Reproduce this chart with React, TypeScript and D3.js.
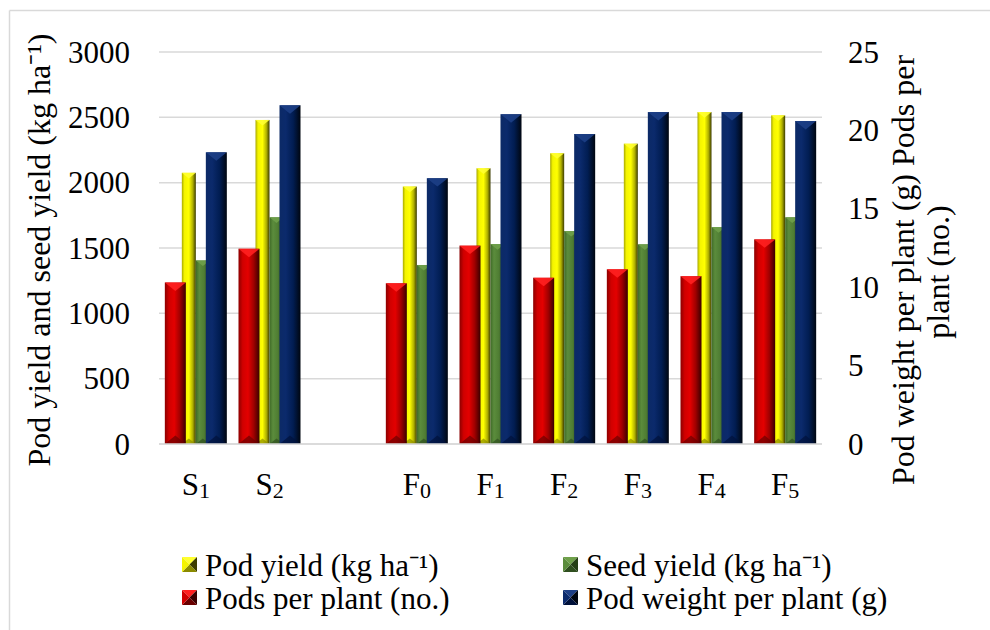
import React from "react";
import * as d3 from "d3";

// Treatments (an empty slot separates the S and F groups)
const categories = ["S1", "S2", "", "F0", "F1", "F2", "F3", "F4", "F5"];
const podYield = [2075, 2480, null, 1970, 2110, 2225, 2298, 2540, 2515];
const seedYield = [1405, 1735, null, 1370, 1530, 1630, 1528, 1660, 1735];
const podsPerPlant = [10.3, 12.45, null, 10.25, 12.65, 10.6, 11.14, 10.7, 13.05];
const podWeight = [18.6, 21.6, null, 16.95, 21.03, 19.77, 21.17, 21.17, 20.6];

const leftTicks = [0, 500, 1000, 1500, 2000, 2500, 3000];
const rightTicks = [0, 5, 10, 15, 20, 25];

type Palette = { id: string; stops: [number, string][]; top: string; bottom: string };

const palettes: Record<string, Palette> = {
  yellow: {
    id: "gYellow",
    stops: [[0, "#a8a800"], [0.18, "#f4f400"], [0.5, "#ffff00"], [0.78, "#b0b000"], [1, "#3c3c00"]],
    top: "#ffff30",
    bottom: "#8a8a00",
  },
  green: {
    id: "gGreen",
    stops: [[0, "#3f6a28"], [0.25, "#5b8c3c"], [0.6, "#4f7d33"], [1, "#253f16"]],
    top: "#6fa04a",
    bottom: "#2f4f1f",
  },
  red: {
    id: "gRed",
    stops: [[0, "#8c0000"], [0.2, "#d00000"], [0.45, "#e30000"], [0.72, "#a00000"], [1, "#3a0000"]],
    top: "#ff2020",
    bottom: "#6a0000",
  },
  blue: {
    id: "gBlue",
    stops: [[0, "#0c2a66"], [0.3, "#0b2a6c"], [0.65, "#011d52"], [1, "#000610"]],
    top: "#1d3f86",
    bottom: "#00113a",
  },
};

const W = 990;
const H = 630;
const plotLeft = 159;
const plotRight = 822;
const plotTop = 52;
const plotBottom = 444;
const FS = 31;
const textStyle = { fontFamily: "Liberation Serif" };

const x = d3.scaleBand<string>()
  .domain(categories.map((c, i) => `${i}`))
  .range([plotLeft, plotRight])
  .padding(0);
const yLeft = d3.scaleLinear().domain([0, 3000]).range([plotBottom, plotTop]);
const yRight = d3.scaleLinear().domain([0, 25]).range([plotBottom, plotTop]);

function Bar({ x0, w, yTop, yBase, pal }: { x0: number; w: number; yTop: number; yBase: number; pal: Palette }) {
  const x1 = x0 + w;
  const xm = x0 + w / 2;
  const h = yBase - yTop;
  const b = Math.min(w * 0.4, h / 2);
  return (
    <g>
      <rect x={x0} y={yTop} width={w} height={h} fill={`url(#${pal.id})`} />
      <polygon points={`${x0},${yTop} ${x1},${yTop} ${xm},${yTop + b}`} fill={pal.top} opacity={0.9} />
      <polygon points={`${x0},${yBase} ${x1},${yBase} ${xm},${yBase - b}`} fill={pal.bottom} opacity={0.7} />
    </g>
  );
}

function LegendMarker({ x0, y0, s, pal }: { x0: number; y0: number; s: number; pal: Palette }) {
  const cx = x0 + s / 2;
  const cy = y0 + s / 2;
  const c = pal.stops;
  return (
    <g>
      <polygon points={`${x0},${y0} ${x0 + s},${y0} ${cx},${cy}`} fill={pal.top} />
      <polygon points={`${x0 + s},${y0} ${x0 + s},${y0 + s} ${cx},${cy}`} fill={c[c.length - 1][1]} />
      <polygon points={`${x0},${y0 + s} ${x0 + s},${y0 + s} ${cx},${cy}`} fill={pal.bottom} />
      <polygon points={`${x0},${y0} ${x0},${y0 + s} ${cx},${cy}`} fill={c[1][1]} />
    </g>
  );
}

function CatLabel({ label, cx }: { label: string; cx: number }) {
  if (!label) return null;
  return (
    <text x={cx} y={495} textAnchor="middle" style={textStyle} fontSize={FS} fill="#000">
      {label[0]}
      <tspan fontSize={22} dy={3}>{label.slice(1)}</tspan>
    </text>
  );
}

export default function App() {
  const bw = x.bandwidth();
  const primaryW = 14;
  const secondaryW = 21;
  const secondaryOffset = 20.5;

  const legend = [
    { label: "Pod yield (kg ha⁻¹)", pal: palettes.yellow, lx: 182, ly: 576 },
    { label: "Seed yield (kg ha⁻¹)", pal: palettes.green, lx: 563, ly: 576 },
    { label: "Pods per plant (no.)", pal: palettes.red, lx: 182, ly: 609 },
    { label: "Pod weight per plant (g)", pal: palettes.blue, lx: 563, ly: 609 },
  ];

  return (
    <svg width={W} height={H} style={{ position: "absolute", left: 0, top: 0, background: "#fff" }}>
      <defs>
        {Object.values(palettes).map((p) => (
          <linearGradient key={p.id} id={p.id} x1="0" x2="1" y1="0" y2="0">
            {p.stops.map(([o, c], i) => (
              <stop key={i} offset={o} stopColor={c} />
            ))}
          </linearGradient>
        ))}
      </defs>
      <rect x={0} y={0} width={W} height={H} fill="#fff" />
      {/* outer frame */}
      <line x1={9.5} y1={10.5} x2={W} y2={10.5} stroke="#d9d9d9" strokeWidth={1.5} />
      <line x1={9.5} y1={10.5} x2={9.5} y2={H} stroke="#d9d9d9" strokeWidth={1.5} />

      {/* gridlines */}
      {leftTicks.map((t) => (
        <line key={t} x1={plotLeft} x2={plotRight} y1={yLeft(t)} y2={yLeft(t)} stroke="#d9d9d9" strokeWidth={1.5} />
      ))}

      {/* primary-axis bars */}
      {categories.map((c, i) => {
        const cx = (x(`${i}`) as number) + bw / 2;
        const py = podYield[i];
        const sy = seedYield[i];
        if (py == null || sy == null) return null;
        return (
          <g key={`p${i}`}>
            <Bar x0={cx - primaryW} w={primaryW} yTop={yLeft(py)} yBase={yLeft(0)} pal={palettes.yellow} />
            <Bar x0={cx} w={primaryW} yTop={yLeft(sy)} yBase={yLeft(0)} pal={palettes.green} />
          </g>
        );
      })}

      {/* secondary-axis bars */}
      {categories.map((c, i) => {
        const cx = (x(`${i}`) as number) + bw / 2;
        const pp = podsPerPlant[i];
        const pw = podWeight[i];
        if (pp == null || pw == null) return null;
        return (
          <g key={`s${i}`}>
            <Bar x0={cx - secondaryOffset - secondaryW / 2} w={secondaryW} yTop={yRight(pp)} yBase={yRight(0)} pal={palettes.red} />
            <Bar x0={cx + secondaryOffset - secondaryW / 2} w={secondaryW} yTop={yRight(pw)} yBase={yRight(0)} pal={palettes.blue} />
          </g>
        );
      })}

      {/* category axis */}
      <line x1={plotLeft} x2={plotRight} y1={plotBottom} y2={plotBottom} stroke="#d9d9d9" strokeWidth={1.5} />
      {categories.map((c, i) => (
        <CatLabel key={`l${i}`} label={c} cx={(x(`${i}`) as number) + bw / 2} />
      ))}

      {/* left axis */}
      {leftTicks.map((t) => (
        <text key={`lt${t}`} x={130} y={yLeft(t) + 10.5} textAnchor="end" style={textStyle} fontSize={FS} fill="#000">
          {t}
        </text>
      ))}
      <text transform={`translate(50, 250) rotate(-90)`} textAnchor="middle" style={textStyle} fontSize={32} fill="#000">
        Pod yield and seed yield (kg ha⁻¹)
      </text>

      {/* right axis */}
      {rightTicks.map((t) => (
        <text key={`rt${t}`} x={848} y={yRight(t) + 10.5} textAnchor="start" style={textStyle} fontSize={FS} fill="#000">
          {t}
        </text>
      ))}
      <text transform={`translate(914, 270) rotate(-90)`} textAnchor="middle" style={textStyle} fontSize={32} fill="#000">
        Pod weight per plant (g) Pods per
      </text>
      <text transform={`translate(949, 272) rotate(-90)`} textAnchor="middle" style={textStyle} fontSize={32} fill="#000">
        plant (no.)
      </text>

      {/* legend */}
      {legend.map((l) => (
        <g key={l.label}>
          <LegendMarker x0={l.lx} y0={l.ly - 19} s={15} pal={l.pal} />
          <text x={l.lx + 23} y={l.ly} style={textStyle} fontSize={FS} fill="#000">
            {l.label}
          </text>
        </g>
      ))}
    </svg>
  );
}
